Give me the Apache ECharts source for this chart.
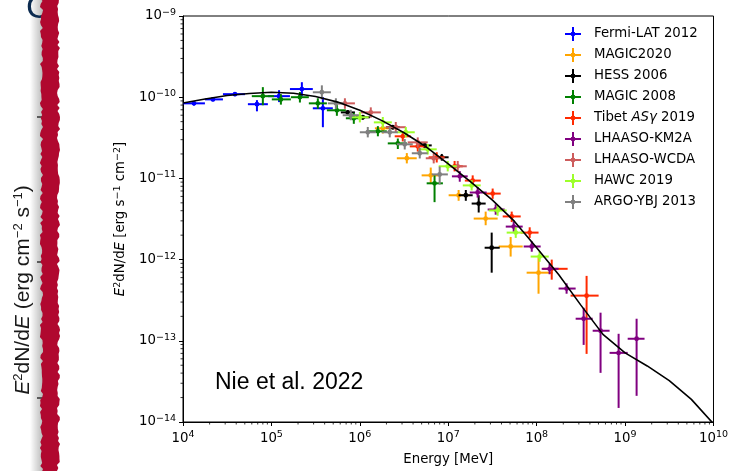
<!DOCTYPE html>
<html>
<head>
<meta charset="utf-8">
<script src="https://cdn.jsdelivr.net/npm/echarts@6/dist/echarts.min.js"></script>
<style>
  html, body { margin: 0; padding: 0; background: #fff; }
  #chart { width: 731px; height: 471px; }
</style>
</head>
<body>
<div id="chart"></div>
<script>
// Crab Nebula spectral energy distribution, E^2 dN/dE versus energy.
// Each point: [E, flux, E_low, E_high, flux_low, flux_high]  (MeV, erg s^-1 cm^-2)

const fermiLAT2012 = [
  [1.33e4, 8.4e-11, 1.0e4, 1.77e4, 7.9e-11, 8.9e-11],
  [2.18e4, 9.4e-11, 1.77e4, 2.83e4, 8.9e-11, 9.9e-11],
  [3.87e4, 1.09e-10, 2.83e4, 5.02e4, 1.03e-10, 1.15e-10],
  [6.86e4, 8.2e-11, 5.42e4, 9.12e4, 6.7e-11, 9.2e-11],
  [1.22e5, 1.03e-10, 9.12e4, 1.62e5, 8.7e-11, 1.22e-10],
  [2.21e5, 1.26e-10, 1.62e5, 2.94e5, 1.03e-10, 1.53e-10],
  [3.82e5, 7.3e-11, 2.94e5, 4.95e5, 4.27e-11, 1.0e-10]
];

const magic2020 = [
  [1.82e6, 4.14e-11, 1.48e6, 2.3e6, 3.57e-11, 4.8e-11],
  [3.4e6, 1.77e-11, 2.62e6, 4.4e6, 1.53e-11, 2.05e-11],
  [6.34e6, 1.09e-11, 5.0e6, 8.2e6, 8.5e-12, 1.36e-11],
  [1.31e7, 6.2e-12, 1.01e7, 1.75e7, 5.3e-12, 7.2e-12],
  [2.65e7, 3.2e-12, 1.94e7, 3.62e7, 2.65e-12, 3.9e-12],
  [5.08e7, 1.45e-12, 3.72e7, 6.95e7, 1.09e-12, 1.9e-12],
  [1.05e8, 6.9e-13, 7.7e7, 1.52e8, 3.8e-13, 1.06e-12]
];

const hess2006 = [
  [7.3e5, 6.5e-11, 6.1e5, 8.8e5, 6.1e-11, 6.9e-11],
  [1.08e6, 5.66e-11, 9.0e5, 1.3e6, 5.3e-11, 6.0e-11],
  [2.36e6, 4.27e-11, 1.97e6, 2.83e6, 4.0e-11, 4.55e-11],
  [5.42e6, 2.55e-11, 4.52e6, 6.5e6, 2.35e-11, 2.75e-11],
  [8.45e6, 1.82e-11, 7.0e6, 1.01e7, 1.65e-11, 2.0e-11],
  [1.58e7, 6.2e-12, 1.31e7, 1.89e7, 5.3e-12, 7.2e-12],
  [2.21e7, 4.9e-12, 1.84e7, 2.65e7, 3.8e-12, 6.2e-12],
  [3.1e7, 1.4e-12, 2.58e7, 3.82e7, 6.9e-13, 2.15e-12]
];

const magic2008 = [
  [8.0e4, 1.03e-10, 6.0e4, 1.07e5, 7.96e-11, 1.33e-10],
  [1.28e5, 9.4e-11, 1.01e5, 1.66e5, 8.1e-11, 1.09e-10],
  [2.10e5, 1.0e-10, 1.66e5, 2.65e5, 8.6e-11, 1.16e-10],
  [3.35e5, 8.4e-11, 2.65e5, 4.24e5, 7.2e-11, 9.7e-11],
  [5.5e5, 6.9e-11, 4.24e5, 6.95e5, 5.9e-11, 8.0e-11],
  [8.55e5, 5.5e-11, 6.95e5, 1.05e6, 4.7e-11, 6.4e-11],
  [1.6e6, 3.8e-11, 1.26e6, 2.02e6, 3.3e-11, 4.4e-11],
  [2.69e6, 2.7e-11, 2.07e6, 3.4e6, 2.3e-11, 3.1e-11],
  [7.0e6, 8.7e-12, 5.7e6, 8.7e6, 5.1e-12, 1.09e-11]
];

const tibetASg2019 = [
  [3.06e6, 3.3e-11, 2.48e6, 3.77e6, 2.85e-11, 3.8e-11],
  [4.52e6, 2.48e-11, 3.67e6, 5.57e6, 2.14e-11, 2.88e-11],
  [7.41e6, 1.82e-11, 6.0e6, 9.1e6, 1.57e-11, 2.1e-11],
  [1.18e7, 1.41e-11, 9.6e6, 1.46e7, 1.22e-11, 1.64e-11],
  [1.89e7, 9.4e-12, 1.54e7, 2.33e7, 8.1e-12, 1.09e-11],
  [3.18e7, 6.5e-12, 2.58e7, 3.92e7, 5.6e-12, 7.5e-12],
  [5.22e7, 3.4e-12, 4.13e7, 6.6e7, 2.9e-12, 3.9e-12],
  [8.34e7, 2.15e-12, 6.6e7, 1.05e8, 1.85e-12, 2.5e-12],
  [1.48e8, 7.7e-13, 1.17e8, 2.24e8, 5.66e-13, 1.0e-12],
  [3.67e8, 3.6e-13, 2.42e8, 5.02e8, 6.9e-14, 6.3e-13]
];

const lhaasoKM2A = [
  [1.35e7, 1.06e-11, 1.1e7, 1.66e7, 9.1e-12, 1.23e-11],
  [2.15e7, 6.7e-12, 1.75e7, 2.72e7, 5.8e-12, 7.8e-12],
  [3.44e7, 4.14e-12, 2.79e7, 4.35e7, 3.57e-12, 4.8e-12],
  [5.5e7, 2.55e-12, 4.47e7, 6.95e7, 2.2e-12, 2.96e-12],
  [8.8e7, 1.45e-12, 7.13e7, 1.11e8, 1.25e-12, 1.68e-12],
  [1.4e8, 7.7e-13, 1.14e8, 1.77e8, 6.6e-13, 8.9e-13],
  [2.18e8, 4.4e-13, 1.77e8, 2.76e8, 3.8e-13, 5.1e-13],
  [3.4e8, 1.87e-13, 2.76e8, 4.3e8, 8.9e-14, 2.55e-13],
  [5.28e8, 1.33e-13, 4.3e8, 6.68e8, 4.03e-14, 2.22e-13],
  [8.45e8, 7.1e-14, 6.68e8, 1.07e9, 1.49e-14, 1.22e-13],
  [1.35e9, 1.06e-13, 1.07e9, 1.66e9, 2.1e-14, 1.87e-13]
];

const lhaasoWCDA = [
  [6.78e5, 8.4e-11, 5.2e5, 8.8e5, 7.2e-11, 9.7e-11],
  [1.33e6, 6.5e-11, 1.03e6, 1.73e6, 5.6e-11, 7.5e-11],
  [2.55e6, 4.27e-11, 1.97e6, 3.31e6, 3.7e-11, 4.95e-11],
  [4.52e6, 2.78e-11, 3.48e6, 5.86e6, 2.4e-11, 3.2e-11],
  [6.85e6, 1.77e-11, 5.57e6, 8.9e6, 1.53e-11, 2.05e-11],
  [1.28e7, 1.41e-11, 1.04e7, 1.62e7, 1.22e-11, 1.64e-11]
];

const hawc2019 = [
  [1.0e6, 5.66e-11, 7.9e5, 1.26e6, 4.9e-11, 6.6e-11],
  [1.82e6, 4.9e-11, 1.44e6, 2.3e6, 4.2e-11, 5.7e-11],
  [3.31e6, 3.7e-11, 2.62e6, 4.18e6, 3.2e-11, 4.3e-11],
  [5.86e6, 2.28e-11, 4.64e6, 7.41e6, 1.97e-11, 2.65e-11],
  [9.87e6, 1.41e-11, 7.8e6, 1.25e7, 1.22e-11, 1.64e-11],
  [1.84e7, 8.2e-12, 1.46e7, 2.33e7, 7.1e-12, 9.5e-12],
  [3.62e7, 4.03e-12, 2.87e7, 4.58e7, 3.47e-12, 4.7e-12],
  [5.8e7, 2.15e-12, 4.58e7, 7.3e7, 1.85e-12, 2.5e-12],
  [1.08e8, 1.09e-12, 8.55e7, 1.37e8, 9.4e-13, 1.26e-12]
];

const argoYBJ2013 = [
  [3.72e5, 1.15e-10, 2.94e5, 4.7e5, 9.4e-11, 1.4e-10],
  [5.36e5, 8.4e-11, 4.35e5, 6.6e5, 7.2e-11, 9.7e-11],
  [7.9e5, 6.0e-11, 6.4e5, 9.75e5, 5.2e-11, 7.0e-11],
  [1.23e6, 3.7e-11, 1.0e6, 1.52e6, 3.2e-11, 4.3e-11],
  [2.18e6, 3.7e-11, 1.77e6, 2.69e6, 3.2e-11, 4.3e-11],
  [3.22e6, 2.63e-11, 2.62e6, 3.97e6, 2.27e-11, 3.05e-11],
  [4.76e6, 2.04e-11, 3.87e6, 5.86e6, 1.76e-11, 2.37e-11],
  [8.0e6, 1.12e-11, 6.5e6, 9.9e6, 8.4e-12, 1.4e-11]
];

// Model curve: energy (MeV) and E^2 dN/dE
const modelEnergy = [1e4, 1.78e4, 3.16e4, 5.62e4, 1e5, 1.78e5, 3.16e5, 5.62e5,
  1e6, 1.78e6, 3.16e6, 5.62e6, 1e7, 1.78e7, 3.16e7, 5.62e7,
  1e8, 1.78e8, 3.16e8, 5.62e8, 1e9, 1.78e9, 3.16e9, 5.62e9, 1e10];
const modelFlux = [8.5e-11, 9.5e-11, 1.05e-10, 1.11e-10, 1.15e-10, 1.12e-10, 1.02e-10, 8.7e-11,
  6.9e-11, 5.15e-11, 3.65e-11, 2.45e-11, 1.51e-11, 9.1e-12, 5.4e-12, 2.95e-12,
  1.4e-12, 6.5e-13, 2.75e-13, 1.2e-13, 7.1e-14, 4.9e-14, 3.24e-14, 1.9e-14, 9.5e-15];

const seriesNames = ['Fermi-LAT 2012', 'MAGIC2020', 'HESS 2006', 'MAGIC 2008', 'Tibet ASγ 2019',
  'LHAASO-KM2A', 'LHAASO-WCDA', 'HAWC 2019', 'ARGO-YBJ 2013'];
const seriesData = [fermiLAT2012, magic2020, hess2006, magic2008, tibetASg2019,
  lhaasoKM2A, lhaasoWCDA, hawc2019, argoYBJ2013];
const seriesColors = ['#0000ff', '#ffa500', '#000000', '#008000', '#ff2a00',
  '#800080', '#cd5c5c', '#9dff2a', '#808080'];

const xRange = [1e4, 1e10];
const yRange = [1e-14, 1e-9];

const FONT = 'DejaVu Sans';
const TICK_FS = 13.3;
const SUP_FS = 9.5;

function powerLabel(v) {
  const n = Math.round(Math.log10(v));
  return '{b|10}{s|' + (n < 0 ? '\u2212' + (-n) : String(n)) + '}';
}
const tickRich = {
  b: { fontSize: TICK_FS, fontFamily: FONT, color: '#000' },
  s: { fontSize: SUP_FS, fontFamily: FONT, color: '#000', padding: [0, 0, 7, 0], verticalAlign: 'bottom' }
};

// error-bar cross: horizontal bin width, vertical flux error and a small dot
function renderCross(params, api) {
  const c = api.coord([api.value(0), api.value(1)]);
  const xl = api.coord([api.value(2), api.value(1)]);
  const xh = api.coord([api.value(3), api.value(1)]);
  const yl = api.coord([api.value(0), api.value(4)]);
  const yh = api.coord([api.value(0), api.value(5)]);
  const color = api.visual('color');
  return {
    type: 'group',
    children: [
      { type: 'line', shape: { x1: xl[0], y1: c[1], x2: xh[0], y2: c[1] }, style: { stroke: color, lineWidth: 2 } },
      { type: 'line', shape: { x1: c[0], y1: yl[1], x2: c[0], y2: yh[1] }, style: { stroke: color, lineWidth: 2 } },
      { type: 'circle', shape: { cx: c[0], cy: c[1], r: 2.4 }, style: { fill: color } }
    ]
  };
}

// minor tick positions (2..9 x 10^n) on both log axes
const xMinor = [];
for (let p = 4; p < 10; p++) for (let k = 2; k <= 9; k++) xMinor.push([k * Math.pow(10, p), yRange[0]]);
const yMinor = [];
for (let p = -14; p < -9; p++) for (let k = 2; k <= 9; k++) yMinor.push([xRange[0], k * Math.pow(10, p)]);

const series = seriesData.map((d, i) => ({
  name: seriesNames[i],
  type: 'custom',
  renderItem: renderCross,
  data: d,
  encode: { x: [0, 2, 3], y: [1, 4, 5] },
  itemStyle: { color: seriesColors[i] },
  z: 3 + i * 0.01
}));

series.push({
  name: 'model',
  type: 'line',
  data: modelEnergy.map((e, i) => [e, modelFlux[i]]),
  showSymbol: false,
  symbol: 'none',
  lineStyle: { color: '#000', width: 1.6 },
  z: 5,
  silent: true
});

series.push({
  type: 'custom', silent: true, z: 6,
  data: xMinor,
  renderItem: (p, api) => {
    const c = api.coord([api.value(0), api.value(1)]);
    return { type: 'line', shape: { x1: c[0], y1: c[1], x2: c[0], y2: c[1] + 2.5 }, style: { stroke: '#000', lineWidth: 0.8 } };
  }
});
series.push({
  type: 'custom', silent: true, z: 6,
  data: yMinor,
  renderItem: (p, api) => {
    const c = api.coord([api.value(0), api.value(1)]);
    return { type: 'line', shape: { x1: c[0] - 2.5, y1: c[1], x2: c[0], y2: c[1] }, style: { stroke: '#000', lineWidth: 0.8 } };
  }
});

// rough red band on the slide's left edge
function bandPoints() {
  const pts = [];
  const h = (i, s) => { const t = Math.sin(i * 12.9898 + s) * 43758.5453; return t - Math.floor(t); };
  for (let y = -2; y <= 474; y += 3) pts.push([41.5 + (h(y, 1.3) - 0.5) * 3.2, y]);
  for (let y = 474; y >= -2; y -= 3) pts.push([58.5 + (h(y, 7.1) - 0.5) * 3.2, y]);
  return pts;
}

const slideRich = {
  i: { fontStyle: 'italic', fontSize: 21, fontFamily: 'Liberation Sans', fill: '#1a1a1a' },
  s: { fontSize: 13, fontFamily: 'Liberation Sans', fill: '#1a1a1a', padding: [0, 0, 9, 0], verticalAlign: 'bottom' }
};

const chart = echarts.init(document.getElementById('chart'), null, { renderer: 'canvas' });
chart.setOption({
  animation: false,
  backgroundColor: '#fff',
  grid: { left: 183, right: 17, top: 16, bottom: 49, show: true, borderColor: '#000', borderWidth: 1, backgroundColor: 'transparent' },
  xAxis: {
    type: 'log', logBase: 10, min: xRange[0], max: xRange[1],
    name: 'Energy [MeV]', nameLocation: 'middle', nameGap: 31,
    nameTextStyle: { fontSize: TICK_FS, fontFamily: FONT, color: '#000' },
    axisLine: { show: true, lineStyle: { color: '#000', width: 1 } },
    axisTick: { show: true, length: 4, lineStyle: { color: '#000', width: 1 } },
    splitLine: { show: false },
    axisLabel: { formatter: powerLabel, rich: tickRich, margin: 8, color: '#000' }
  },
  yAxis: {
    type: 'log', logBase: 10, min: yRange[0], max: yRange[1],
    name: '{i|E}{s|2}dN/d{i|E} [erg s{s|\u22121} cm{s|\u22122}]',
    nameLocation: 'middle', nameGap: 54, nameRotate: 90,
    nameTextStyle: {
      fontSize: TICK_FS, fontFamily: FONT, color: '#000',
      rich: {
        i: { fontStyle: 'italic', fontSize: TICK_FS, fontFamily: FONT, color: '#000' },
        s: { fontSize: SUP_FS, fontFamily: FONT, color: '#000', padding: [0, 0, 6, 0], verticalAlign: 'bottom' }
      }
    },
    axisLine: { show: true, lineStyle: { color: '#000', width: 1 } },
    axisTick: { show: true, length: 4, lineStyle: { color: '#000', width: 1 } },
    splitLine: { show: false },
    axisLabel: { formatter: powerLabel, rich: tickRich, margin: 7, color: '#000' }
  },
  legend: {
    data: seriesNames,
    orient: 'vertical',
    left: 560, top: 22,
    itemWidth: 16, itemHeight: 14, itemGap: 7,
    icon: 'path://M0,6H16V8H0Z M7,0H9V14H7Z M8,4.6A2.4,2.4 0 1 1 7.99,4.6Z',
    formatter: name => name === 'Tibet ASγ 2019' ? 'Tibet {i|ASγ} 2019' : name,
    textStyle: {
      fontSize: TICK_FS, fontFamily: FONT, color: '#000', lineHeight: 14,
      padding: [0, 0, 0, 8],
      rich: { i: { fontStyle: 'italic', fontSize: TICK_FS, fontFamily: FONT, color: '#000' } }
    },
    selectedMode: false
  },
  graphic: [
    {
      type: 'rect', silent: true, z: 10,
      shape: { x: 30, y: 0, width: 13, height: 471 },
      style: {
        fill: new echarts.graphic.LinearGradient(0, 0, 1, 0, [
          { offset: 0, color: 'rgba(0,0,0,0)' },
          { offset: 1, color: 'rgba(0,0,0,0.28)' }
        ])
      }
    },
    {
      type: 'text', silent: true, z: 11,
      style: { text: 'C', x: 26, y: 9, verticalAlign: 'middle', font: '34px "Liberation Sans"', fill: '#0c2b50' }
    },
    { type: 'line', silent: true, z: 11, shape: { x1: 37, y1: 117, x2: 44, y2: 117 }, style: { stroke: '#333', lineWidth: 1.5 } },
    { type: 'line', silent: true, z: 11, shape: { x1: 37, y1: 262, x2: 44, y2: 262 }, style: { stroke: '#333', lineWidth: 1.5 } },
    { type: 'line', silent: true, z: 11, shape: { x1: 37, y1: 398, x2: 44, y2: 398 }, style: { stroke: '#333', lineWidth: 1.5 } },
    {
      type: 'polygon', silent: true, z: 12,
      shape: { points: bandPoints() },
      style: { fill: '#b0082f' }
    },
    {
      type: 'text', silent: true, z: 11,
      x: 23, y: 290, rotation: Math.PI / 2,
      style: {
        text: '{i|E}{s|2}dN/d{i|E} (erg cm{s|\u22122} s{s|\u22121})',
        rich: slideRich,
        font: '21px "Liberation Sans"', fill: '#1a1a1a',
        align: 'center', verticalAlign: 'middle'
      }
    },
    {
      type: 'text', silent: true, z: 11,
      style: { text: 'Nie et al. 2022', x: 215, y: 383, verticalAlign: 'middle', font: '23px "Liberation Sans"', fill: '#000' }
    }
  ],
  series: series
});
</script>
</body>
</html>
